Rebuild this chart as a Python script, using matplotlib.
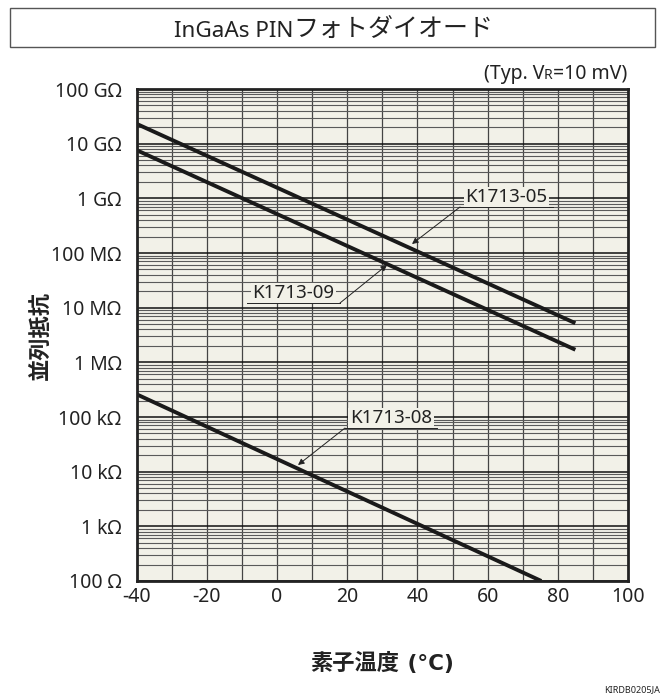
import matplotlib
matplotlib.use("Agg")
import matplotlib.pyplot as plt
import numpy as np

plt.rcParams['font.family'] = ['Noto Sans', 'Noto Sans CJK JP', 'DejaVu Sans']

# Data (temperature in degC, resistance in ohm)
t_05 = [-40, 85]
r_05 = [2.3e10, 5.2e6]
t_09 = [-40, 85]
r_09 = [7.6e9, 1.7e6]
t_08 = [-40, 75.3]
r_08 = [2.6e5, 100]

ytick_vals = [1e2, 1e3, 1e4, 1e5, 1e6, 1e7, 1e8, 1e9, 1e10, 1e11]
ytick_labels = ['100 Ω', '1 kΩ', '10 kΩ', '100 kΩ', '1 MΩ', '10 MΩ',
                '100 MΩ', '1 GΩ', '10 GΩ', '100 GΩ']
xtick_vals = [-40, -20, 0, 20, 40, 60, 80, 100]

W, H = 666, 697
fig = plt.figure(figsize=(W/100, H/100), dpi=100)
fig.patch.set_facecolor('white')
AX_L, AX_R, AX_T, AX_B = 136.7, 628.0, 89.0, 581.0
ax = fig.add_axes([AX_L/W, 1-AX_B/H, (AX_R-AX_L)/W, (AX_B-AX_T)/H])
ax.set_facecolor('#f2f1e8')
ax.set_yscale('log')
ax.set_xlim(-40, 100)
ax.set_ylim(1e2, 1e11)

# grid
for x in range(-30, 100, 10):
    ax.axvline(x, color='#444444', lw=0.9, zorder=1)
for d in range(2, 11):
    ax.axhline(10.0**d, color='#111111', lw=1.1, zorder=1)
for d in range(2, 11):
    for m in range(2, 10):
        ax.axhline(m*10.0**d, color='#5a5a5a', lw=0.8, zorder=1)

for tt, rr in [(t_05, r_05), (t_09, r_09), (t_08, r_08)]:
    ax.plot(tt, rr, color='#1a1a1a', lw=2.8, zorder=3, solid_capstyle='butt')

ax.set_xticks(xtick_vals)
ax.set_xticklabels([str(v) for v in xtick_vals], fontsize=14, color='#222222')
ax.set_yticks(ytick_vals)
ax.set_yticklabels(ytick_labels, fontsize=14, color='#222222')
ax.yaxis.set_minor_locator(matplotlib.ticker.NullLocator())
ax.tick_params(length=0)
ax.tick_params(axis='x', pad=4)
ax.tick_params(axis='y', pad=11)
for s in ax.spines.values():
    s.set_linewidth(2.0)
    s.set_color('#222222')
    s.set_zorder(5)


def data_from_px(px, py):
    x = -40 + (px - AX_L) / (AX_R - AX_L) * 140
    y = 10 ** (11 - (py - AX_T) / ((AX_B - AX_T) / 9))
    return x, y

# annotations: (text, underline left px, underline right px, underline y px, arrow side, target px)
annots = [
    ('K1713-05', 460, 553, 207, 'left', (412, 244)),
    ('K1713-09', 247, 340, 303, 'right', (387, 265)),
    ('K1713-08', 345, 437, 428, 'left', (298, 465)),
]
for txt, xl, xr, yu, side, tgt in annots:
    x0, y0 = data_from_px(xl, yu)
    x1, _ = data_from_px(xr, yu)
    xc, yt = data_from_px((xl + xr) / 2, yu - 1)
    ax.text(xc, yt, txt, fontsize=13.5, ha='center', va='bottom', zorder=6,
            color='#222222',
            bbox=dict(boxstyle='square,pad=0.08', fc='#f2f1e8', ec='none'))
    ax.plot([x0, x1], [y0, y0], color='#222222', lw=0.7, zorder=7)
    sx = x0 if side == 'left' else x1
    gx, gy = data_from_px(*tgt)
    ax.annotate('', xy=(gx, gy), xytext=(sx, y0), zorder=7,
                arrowprops=dict(arrowstyle='-|>', color='#222222', lw=0.7,
                                mutation_scale=9, shrinkA=0, shrinkB=0))

renderer = fig.canvas.get_renderer()


def text_row(pieces, x_px, y_base_px, align, **kw):
    """pieces: list of (text, fontsize, extra kwargs). baseline aligned row."""
    arts = []
    widths = []
    for txt, fs, extra in pieces:
        a = fig.text(0, 1 - y_base_px/H, txt, fontsize=fs, ha='left', va='baseline',
                     color='#222222', **extra, **kw)
        arts.append(a)
        widths.append(a.get_window_extent(renderer).width)
    total = sum(widths)
    if align == 'right':
        x = x_px - total
    elif align == 'center':
        x = x_px - total/2
    else:
        x = x_px
    for a, w in zip(arts, widths):
        a.set_x(x / W)
        x += w
    return arts

# title box
fig.patches.append(matplotlib.patches.Rectangle((10/W, 1-47/H), 645/W, 39/H,
                   transform=fig.transFigure, fill=False, ec='#555555', lw=1.0))
text_row([('InGaAs PIN', 16.2, {}),
          ('フォトダイオード', 18, {'family': ['Noto Sans CJK JP']})],
         334, 37, 'center')

text_row([('(Typ. V', 14, {}), ('R', 10, {}), ('=10 mV)', 14, {})],
         627, 79, 'right')

fig.text(41/W, 1-335/H, '並列抵抗', rotation=90, ha='center', va='center',
         fontsize=16, fontweight='bold', color='#222222',
         family=['Noto Sans CJK JP'])
text_row([('素子温度', 16, {'family': ['Noto Sans CJK JP'], 'fontweight': 'bold'}),
          (' (°C)', 15.5, {'family': ['DejaVu Sans'], 'fontweight': 'bold'})],
         382, 670, 'center')
fig.text(660/W, 1-690/H, 'KIRDB0205JA', ha='right', va='center',
         fontsize=6.5, color='#222222')

fig.savefig('out.png', dpi=100)
